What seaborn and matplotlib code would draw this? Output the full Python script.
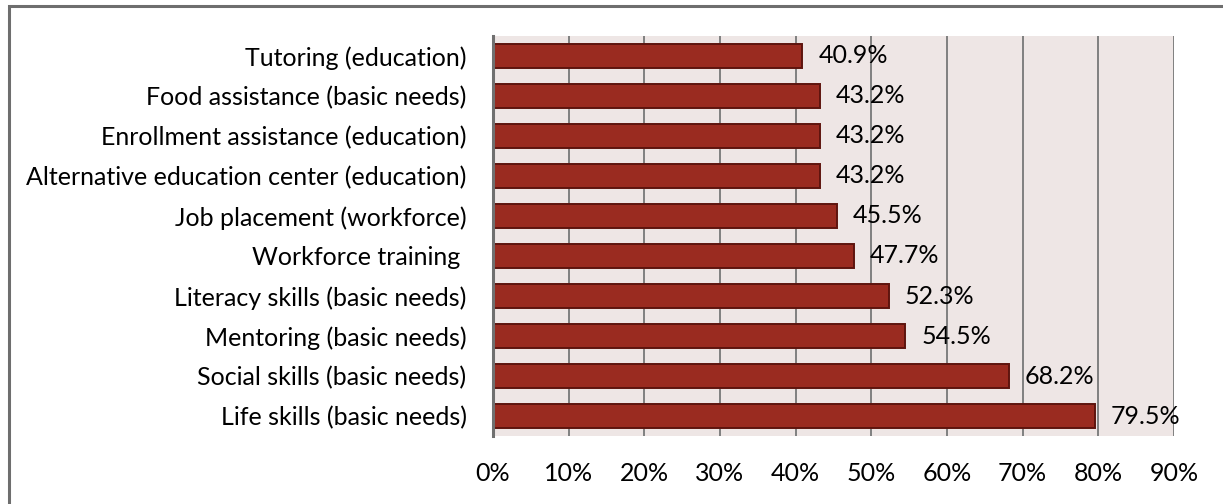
import matplotlib
matplotlib.use("Agg")
import matplotlib.pyplot as plt
from matplotlib.patches import Rectangle
from matplotlib.ticker import FuncFormatter, MultipleLocator
import pandas as pd
import seaborn as sns

services = [
    "Tutoring (education)",
    "Food assistance (basic needs)",
    "Enrollment assistance (education)",
    "Alternative education center (education)",
    "Job placement (workforce)",
    "Workforce training ",
    "Literacy skills (basic needs)",
    "Mentoring (basic needs)",
    "Social skills (basic needs)",
    "Life skills (basic needs)",
]
percent = [40.9, 43.2, 43.2, 43.2, 45.5, 47.7, 52.3, 54.5, 68.2, 79.5]

df = pd.DataFrame({"service": services, "percent": percent})

sns.set_theme(style="white")
plt.rcParams["font.family"] = ["Lato", "DejaVu Sans"]

fig = plt.figure(figsize=(12.23, 5.04), dpi=100)
ax = fig.add_axes([0.4031, 0.1349, 0.5568, 0.7937])
ax.set_facecolor("#EEE6E5")

sns.barplot(data=df, x="percent", y="service", orient="h", ax=ax,
            color="#9A2B20", saturation=1, width=0.6,
            edgecolor="#5E140E", linewidth=1.4, zorder=3)

ax.set_xlim(0, 90)
ax.xaxis.set_major_locator(MultipleLocator(10))
ax.xaxis.set_major_formatter(FuncFormatter(lambda v, _: f"{v:.0f}%"))
ax.grid(axis="x", color="#808080", linewidth=1.4, zorder=0)
ax.grid(axis="y", visible=False)
ax.set_axisbelow(True)
ax.set_xlabel("")
ax.set_ylabel("")

for side in ("top", "right", "bottom"):
    ax.spines[side].set_visible(False)
ax.spines["left"].set_color("#707070")
ax.spines["left"].set_linewidth(2.2)
ax.spines["left"].set_zorder(4)

ax.tick_params(axis="y", length=0, pad=19, labelsize=18, colors="black")
ax.tick_params(axis="x", length=0, pad=18.5, labelsize=18, colors="black")

for container in ax.containers:
    ax.bar_label(container, labels=[f"{v:.1f}%" for v in percent],
                 padding=11.5, fontsize=18, color="black", zorder=5)

# outer chart frame
fig.patches.append(Rectangle((8.5 / 1223, -0.1), 1.2, (504 - 6.5) / 504 + 0.1,
                             transform=fig.transFigure, fill=False,
                             edgecolor="#6E6E6E", linewidth=2.2))

fig.savefig("out.png", dpi=100, facecolor="white")
